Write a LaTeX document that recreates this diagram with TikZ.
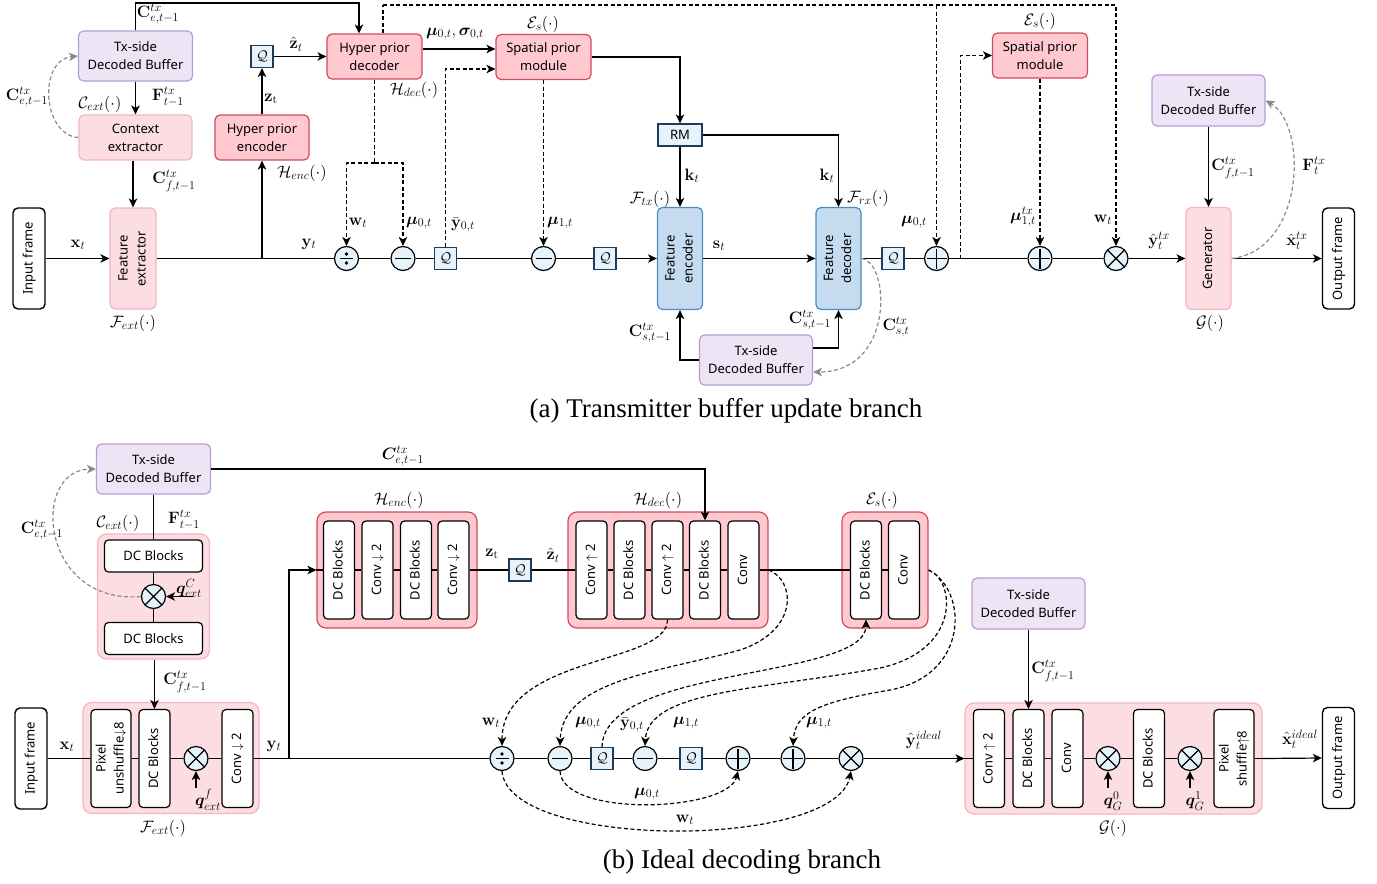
\documentclass[tikz,border=0pt]{standalone}
\usepackage{fix-cm}
\usepackage{amsmath,bm}
\usepackage[no-math]{fontspec}
\setmainfont{Noto Sans}
\newfontfamily\capfont{Liberation Serif}
\usepackage{graphicx}
\usetikzlibrary{arrows.meta,calc}
\DeclareMathSizes{16.5}{16.5}{12}{9}
\definecolor{purF}{HTML}{EDE5F5}
\definecolor{purD}{HTML}{B99AD9}
\definecolor{lpF}{HTML}{FCDDE2}
\definecolor{lpD}{HTML}{F5B5C0}
\definecolor{dpF}{HTML}{FFC9CF}
\definecolor{dpD}{HTML}{D24B5A}
\definecolor{blF}{HTML}{C5DBEF}
\definecolor{blD}{HTML}{4A8CC0}
\definecolor{qF}{HTML}{E6F3FB}
\definecolor{qD}{HTML}{1F3B5C}
\definecolor{grc}{HTML}{8A8A8A}
\newcommand\vtext[1]{\rotatebox{90}{\begin{tabular}{@{}c@{}}#1\end{tabular}}}
\tikzset{
 ln/.style={line width=1.2pt},
 ahead/.style={-{Stealth[length=9pt,width=8.5pt,inset=2.5pt]}},
 arr/.style={ln, ahead},
 dsh/.style={ln, dash pattern=on 4pt off 2.5pt},
 darr/.style={dsh, ahead},
 garr/.style={ln, draw=grc, dash pattern=on 4pt off 2.5pt, ahead},
 bx/.style={rounded corners=5pt, line width=1.2pt, align=center, inner sep=0pt, font=\fontsize{13}{18}\selectfont},
 pur/.style={bx, draw=purD, fill=purF},
 lpk/.style={bx, draw=lpD, fill=lpF},
 dpk/.style={bx, draw=dpD, fill=dpF},
 enc/.style={bx, draw=blD, fill=blF},
 frm/.style={bx, draw=black, fill=white, line width=1.4pt, minimum width=32pt, minimum height=101pt},
 wb/.style={bx, draw=black, fill=white, rounded corners=4pt},
 vb/.style={wb, minimum width=31pt, minimum height=98pt},
 cont/.style={rounded corners=9pt},
 qb/.style={draw=qD, fill=qF, line width=1.2pt, minimum width=22pt, minimum height=22pt, inner sep=0pt, font=\fontsize{14}{16}\selectfont},
 opc/.style={circle, draw=black, fill=qF, line width=1.2pt, minimum size=24pt, inner sep=0pt},
 opplus/.style={opc, path picture={\draw[black, line width=1.3pt] ([xshift=-10pt]path picture bounding box.center) -- ([xshift=10pt]path picture bounding box.center) ([yshift=-10pt]path picture bounding box.center) -- ([yshift=10pt]path picture bounding box.center);}},
 opminus/.style={opc, path picture={\draw[black, line width=1.3pt] ([xshift=-8pt]path picture bounding box.center) -- ([xshift=8pt]path picture bounding box.center);}},
 opdiv/.style={opc, path picture={\draw[black, line width=1.3pt] ([xshift=-6.5pt]path picture bounding box.center) -- ([xshift=6.5pt]path picture bounding box.center); \fill[black] ([yshift=4.5pt]path picture bounding box.center) circle (1.8pt) ([yshift=-4.5pt]path picture bounding box.center) circle (1.8pt);}},
 optimes/.style={opc, path picture={\draw[black, line width=1.3pt] ([shift={(-9pt,-9pt)}]path picture bounding box.center) -- ([shift={(9pt,9pt)}]path picture bounding box.center) ([shift={(-9pt,9pt)}]path picture bounding box.center) -- ([shift={(9pt,-9pt)}]path picture bounding box.center);}},
 lab/.style={inner sep=0pt, font=\fontsize{16.5}{19}\selectfont},
 captxt/.style={inner sep=0pt, font=\capfont\fontsize{27}{30}\selectfont},
}
\begin{document}
\begin{tikzpicture}[x=1pt,y=-1pt]
\path[use as bounding box] (0,0) rectangle (1377,884);
% ================= TOP PANEL =================
\node[pur, minimum width=114pt, minimum height=50pt] (tb1) at (135.5,56) {Tx-side\\Decoded Buffer};
\node[lpk, minimum width=113pt, minimum height=45pt] (ctx) at (135.5,137.5) {Context\\extractor};
\node[lpk, minimum width=46pt, minimum height=101pt] (fext) at (133,258.5) {\vtext{Feature\\extractor}};
\node[frm] (inA) at (29,258.5) {\vtext{Input frame}};
\node[dpk, minimum width=94pt, minimum height=45pt] (henc) at (262,137.5) {Hyper prior\\encoder};
\node[qb] (qz) at (262,56.5) {$\mathcal{Q}$};
\node[dpk, minimum width=95pt, minimum height=45pt] (hdec) at (374.5,56.5) {Hyper prior\\decoder};
\node[dpk, minimum width=95pt, minimum height=45pt] (sp1) at (543.5,57) {Spatial prior\\module};
\node[qb, minimum width=44pt, font=\fontsize{13}{15}\selectfont] (rm) at (680,135) {RM};
\node[enc, minimum width=45pt, minimum height=102pt] (fenc) at (680,258.5) {\vtext{Feature\\encoder}};
\node[enc, minimum width=45pt, minimum height=102pt] (fdec) at (838.5,258.5) {\vtext{Feature\\decoder}};
\node[pur, minimum width=113pt, minimum height=50pt] (tb2) at (756,360) {Tx-side\\Decoded Buffer};
\node[dpk, minimum width=95pt, minimum height=45pt] (sp2) at (1040,55.5) {Spatial prior\\module};
\node[pur, minimum width=113pt, minimum height=51pt] (tb3) at (1208.5,100.5) {Tx-side\\Decoded Buffer};
\node[lpk, minimum width=45pt, minimum height=102pt] (gen) at (1208.5,258.5) {\vtext{Generator}};
\node[frm] (outA) at (1338.5,258.5) {\vtext{Output frame}};
\node[opdiv] (dv1) at (346.5,258.5) {};
\node[opminus] (mn1) at (403,258.5) {};
\node[qb] (qa) at (445.5,258.5) {$\mathcal{Q}$};
\node[opminus] (mn2) at (543.5,258.5) {};
\node[qb] (qbb) at (605,258.5) {$\mathcal{Q}$};
\node[qb] (qc) at (893,258.5) {$\mathcal{Q}$};
\node[opplus] (pl1) at (936.5,258.5) {};
\node[opplus] (pl2) at (1040,258.5) {};
\node[optimes] (tm1) at (1116,258.5) {};
% connectors top
\coordinate (k1) at (359,3);
\coordinate (k2) at (0,49);
\coordinate (k3) at (0,360);
\coordinate (k4) at (0,348);
\coordinate (k5) at (383,5);
\coordinate (k6) at (936.5,5);
\coordinate (k7) at (374.5,163);
\coordinate (k8) at (0,69);
\coordinate (jA) at (262,258.5);
\coordinate (jB) at (960.5,258.5);
\draw[arr] (tb1.south) -- (ctx.north);
\draw[arr] (ctx.south -| fext.north) -- (fext.north);
\draw[arr] (inA.east) -- (fext.west);
\draw[ln] (fext.east) -- (dv1.west);
\draw[arr] (jA) -- (henc.south);
\draw[arr] (henc.north) -- (qz.south);
\draw[arr] (qz.east) -- (hdec.west);
\draw[arr] (tb1.north) |- (k1) -- (k1 |- hdec.north);
\draw[arr] (hdec.east |- k2) -- (sp1.west |- k2);
\draw[arr] (sp1.east) -| (rm.north);
\draw[arr] (rm.south) -- (fenc.north);
\draw[arr] (rm.east) -| (fdec.north);
\draw[ln] (dv1.east) -- (mn1.west);
\draw[ln] (mn1.east) -- (qa.west);
\draw[ln] (qa.east) -- (mn2.west);
\draw[ln] (mn2.east) -- (qbb.west);
\draw[arr] (qbb.east) -- (fenc.west);
\draw[arr] (fenc.east) -- (fdec.west);
\draw[ln] (fdec.east) -- (qc.west);
\draw[ln] (qc.east) -- (pl1.west);
\draw[ln] (pl1.east) -- (pl2.west);
\draw[ln] (pl2.east) -- (tm1.west);
\draw[arr] (tm1.east) -- (gen.west);
\draw[arr] (gen.east) -- (outA.west);
\draw[arr] (tb2.west |- k3) -| (fenc.south);
\draw[arr] (tb2.east |- k4) -| (fdec.south);
\draw[arr] (tb3.south) -- (gen.north);
\draw[dsh] (k5 |- hdec.north) -- (k5);
\draw[darr] (k5) -| (tm1.north);
\draw[darr] (k6) -- (pl1.north);
\draw[dsh] (hdec.south) -- (k7);
\draw[darr] (k7) -| (dv1.north);
\draw[darr] (k7) -| (mn1.north);
\draw[darr] (qa.north) |- (sp1.west |- k8);
\draw[darr] (sp1.south) -- (mn2.north);
\draw[darr] (jB) |- (sp2.west);
\draw[darr] (sp2.south) -- (pl2.north);
\draw[garr] (ctx.west) .. controls (42,135) and (38,60) .. (tb1.west);
\draw[garr] (fdec.east) .. controls (890,262) and (895,372) .. ($(tb2.east)+(0,12)$);
\draw[garr] (gen.east) .. controls (1305,250) and (1308,125) .. (tb3.east);
% labels top
\node[lab] (l1) at (158,14) {$\mathbf{C}^{tx}_{e,t-1}$};
\node[lab] (l2) at (27,97) {$\mathbf{C}^{tx}_{e,t-1}$};
\node[lab] (l3) at (100,104) {$\mathcal{C}_{ext}(\cdot)$};
\node[lab] (l4) at (168,97) {$\mathbf{F}^{tx}_{t-1}$};
\node[lab] (l5) at (174,181) {$\mathbf{C}^{tx}_{f,t-1}$};
\node[lab] (l6) at (133,323) {$\mathcal{F}_{ext}(\cdot)$};
\node[lab] (l7) at (78,245) {$\mathbf{x}_t$};
\node[lab] (l8) at (271,99) {$\mathbf{z}_\mathrm{t}$};
\node[lab] (l9) at (296,44) {$\hat{\mathbf{z}}_t$};
\node[lab] (l10) at (302,173) {$\mathcal{H}_{enc}(\cdot)$};
\node[lab] (l11) at (309,244) {$\mathbf{y}_t$};
\node[lab] (l12) at (455,34) {$\bm{\mu}_{0,t},\bm{\sigma}_{0,t}$};
\node[lab] (l13) at (543,24) {$\mathcal{E}_s(\cdot)$};
\node[lab] (l14) at (414,90) {$\mathcal{H}_{dec}(\cdot)$};
\node[lab] (l15) at (358,223) {$\mathbf{w}_t$};
\node[lab] (l16) at (419,223) {$\bm{\mu}_{0,t}$};
\node[lab] (l17) at (463,225) {$\bar{\mathbf{y}}_{0,t}$};
\node[lab] (l18) at (560,223) {$\bm{\mu}_{1,t}$};
\node[lab] (l19) at (692,176) {$\mathbf{k}_t$};
\node[lab] (l20) at (650,199) {$\mathcal{F}_{tx}(\cdot)$};
\node[lab] (l21) at (827,176) {$\mathbf{k}_t$};
\node[lab] (l22) at (868,198) {$\mathcal{F}_{rx}(\cdot)$};
\node[lab] (l23) at (719,246) {$\mathbf{s}_t$};
\node[lab] (l24) at (650,333) {$\mathbf{C}^{tx}_{s,t-1}$};
\node[lab] (l25) at (810,320) {$\mathbf{C}^{tx}_{s,t-1}$};
\node[lab] (l26) at (896,327) {$\mathbf{C}^{tx}_{s,t}$};
\node[lab] (l27) at (914,222) {$\bm{\mu}_{0,t}$};
\node[lab] (l28) at (1023,217) {$\bm{\mu}^{tx}_{1,t}$};
\node[lab] (l29) at (1103,220) {$\mathbf{w}_t$};
\node[lab] (l30) at (1040,21) {$\mathcal{E}_s(\cdot)$};
\node[lab] (l31) at (1159,241) {$\hat{\mathbf{y}}^{tx}_t$};
\node[lab] (l32) at (1233,168) {$\mathbf{C}^{tx}_{f,t-1}$};
\node[lab] (l33) at (1314,166) {$\mathbf{F}^{tx}_t$};
\node[lab] (l34) at (1297,241) {$\hat{\mathbf{x}}^{tx}_t$};
\node[lab] (l35) at (1210,323) {$\mathcal{G}(\cdot)$};
\node[captxt] (capA) at (726,411) {(a) Transmitter buffer update branch};
% ================= BOTTOM PANEL =================
\node[pur, minimum width=114pt, minimum height=50pt] (tb4) at (153.5,469) {Tx-side\\Decoded Buffer};
\node[lpk, cont, minimum width=112pt, minimum height=125pt] (cext) at (153.5,596.5) {};
\node[wb, minimum width=98pt, minimum height=32pt] (cB1) at (153.5,556) {DC Blocks};
\node[optimes] (ctm) at (153.5,596.5) {};
\node[wb, minimum width=98pt, minimum height=32pt] (cB2) at (153.5,638.5) {DC Blocks};
\node[lpk, cont, minimum width=176pt, minimum height=111pt] (fcont) at (171,758) {};
\node[vb, minimum width=40pt] (fB1) at (111,758.5) {\vtext{Pixel\\unshuffle$\downarrow$8}};
\node[vb] (fB2) at (154.5,758.5) {\vtext{DC Blocks}};
\node[optimes] (ftm) at (196,758.5) {};
\node[vb] (fB3) at (237.5,758.5) {\vtext{Conv $\downarrow$ 2}};
\node[frm] (inB) at (31,758.5) {\vtext{Input frame}};
\node[dpk, cont, minimum width=160pt, minimum height=116pt] (hecont) at (397,570) {};
\node[vb] (eB1) at (339,570) {\vtext{DC Blocks}};
\node[vb] (eB2) at (377.5,570) {\vtext{Conv $\downarrow$ 2}};
\node[vb] (eB3) at (416,570) {\vtext{DC Blocks}};
\node[vb] (eB4) at (453.5,570) {\vtext{Conv $\downarrow$ 2}};
\node[qb] (qz2) at (520,570) {$\mathcal{Q}$};
\node[dpk, cont, minimum width=200pt, minimum height=116pt] (hdcont) at (668,570) {};
\node[vb] (dB1) at (591.5,570) {\vtext{Conv $\uparrow$ 2}};
\node[vb] (dB2) at (629.5,570) {\vtext{DC Blocks}};
\node[vb] (dB3) at (667.5,570) {\vtext{Conv $\uparrow$ 2}};
\node[vb] (dB4) at (705,570) {\vtext{DC Blocks}};
\node[vb] (dB5) at (743.5,570) {\vtext{Conv}};
\node[dpk, cont, minimum width=86pt, minimum height=116pt] (escont) at (885,570) {};
\node[vb] (sB1) at (866,570) {\vtext{DC Blocks}};
\node[vb] (sB2) at (904,570) {\vtext{Conv}};
\node[opdiv] (dv2) at (502,758.5) {};
\node[opminus] (mn3) at (560,758.5) {};
\node[qb] (qd) at (602,758.5) {$\mathcal{Q}$};
\node[opminus] (mn4) at (645,758.5) {};
\node[qb] (qe) at (691,758.5) {$\mathcal{Q}$};
\node[opplus] (pl3) at (738,758.5) {};
\node[opplus] (pl4) at (793,758.5) {};
\node[optimes] (tm2) at (851,758.5) {};
\node[pur, minimum width=113pt, minimum height=51pt] (tb5) at (1028.5,603.5) {Tx-side\\Decoded Buffer};
\node[lpk, cont, minimum width=297pt, minimum height=111pt] (gcont) at (1113.5,758.5) {};
\node[vb] (gB1) at (989,758.5) {\vtext{Conv $\uparrow$ 2}};
\node[vb] (gB2) at (1028.5,758.5) {\vtext{DC Blocks}};
\node[vb] (gB3) at (1067.5,758.5) {\vtext{Conv}};
\node[optimes] (gtm1) at (1108,758.5) {};
\node[vb] (gB4) at (1149,758.5) {\vtext{DC Blocks}};
\node[optimes] (gtm2) at (1190,758.5) {};
\node[vb, minimum width=40pt] (gB5) at (1234,758.5) {\vtext{Pixel\\shuffle$\uparrow$8}};
\node[frm] (outB) at (1338.5,758) {\vtext{Output frame}};
% connectors bottom
\coordinate (qcS) at (193,596.5);
\coordinate (qfS) at (196,788);
\coordinate (q0S) at (1108,788);
\coordinate (q1S) at (1190,788);
\coordinate (jC) at (289,758.5);
\draw[ln] (tb4.south) -- (cB1.north);
\draw[ln] (cB1.south) -- (ctm.north);
\draw[ln] (ctm.south) -- (cB2.north);
\draw[arr] (qcS) -- (ctm.east);
\draw[arr] (cext.south -| fB2.north) -- (fB2.north);
\draw[ln] (inB.east) -- (fB1.west);
\draw[ln] (fB1.east) -- (fB2.west);
\draw[ln] (fB2.east) -- (ftm.west);
\draw[ln] (ftm.east) -- (fB3.west);
\draw[ln] (fB3.east) -- (dv2.west);
\draw[arr] (qfS) -- (ftm.south);
\draw[arr] (jC) |- (hecont.west);
\draw[ln] (hecont.west) -- (eB1.west);
\draw[ln] (eB1.east) -- (eB2.west);
\draw[ln] (eB2.east) -- (eB3.west);
\draw[ln] (eB3.east) -- (eB4.west);
\draw[ln] (eB4.east) -- (qz2.west);
\draw[ln] (qz2.east) -- (dB1.west);
\draw[ln] (dB1.east) -- (dB2.west);
\draw[ln] (dB2.east) -- (dB3.west);
\draw[ln] (dB3.east) -- (dB4.west);
\draw[ln] (dB4.east) -- (dB5.west);
\draw[ln] (dB5.east) -- (sB1.west);
\draw[ln] (sB1.east) -- (sB2.west);
\draw[arr] (tb4.east) -| (dB4.north);
\draw[ln] (dv2.east) -- (mn3.west);
\draw[ln] (mn3.east) -- (qd.west);
\draw[ln] (qd.east) -- (mn4.west);
\draw[ln] (mn4.east) -- (qe.west);
\draw[ln] (qe.east) -- (pl3.west);
\draw[ln] (pl3.east) -- (pl4.west);
\draw[ln] (pl4.east) -- (tm2.west);
\draw[arr] (tm2.east) -- (gcont.west);
\draw[ln] (gcont.west) -- (gB1.west);
\draw[ln] (gB1.east) -- (gB2.west);
\draw[ln] (gB2.east) -- (gB3.west);
\draw[ln] (gB3.east) -- (gtm1.west);
\draw[ln] (gtm1.east) -- (gB4.west);
\draw[ln] (gB4.east) -- (gtm2.west);
\draw[ln] (gtm2.east) -- (gB5.west);
\draw[ln] (gB5.east) -- (gcont.east);
\draw[arr] (gcont.east) -- (outB.west);
\draw[arr] (tb5.south) -- (gB2.north);
\draw[arr] (q0S) -- (gtm1.south);
\draw[arr] (q1S) -- (gtm2.south);
% dashed curves bottom
\draw[darr] (dB3.south) .. controls (668,665) and (502,655) .. (dv2.north);
\draw[darr] (hdcont.east) .. controls (795,580) and (800,630) .. (740,650) .. controls (660,672) and (562,680) .. (mn3.north);
\draw[darr] (qd.north) .. controls (604,665) and (866,680) .. (sB1.south);
\draw[darr] (escont.east) .. controls (955,580) and (962,650) .. (880,668) .. controls (760,690) and (648,690) .. (mn4.north);
\draw[darr] (escont.east) .. controls (968,590) and (970,675) .. (890,690) .. controls (820,702) and (795,712) .. (pl4.north);
\draw[darr] (mn3.south) .. controls (562,818) and (728,812) .. (pl3.south);
\draw[darr] (dv2.south) .. controls (508,850) and (835,850) .. (tm2.south);
\draw[garr] (ctm.west) .. controls (40,605) and (30,470) .. (tb4.west);
% labels bottom
\node[lab] (l36) at (403,456) {$\bm{C}^{tx}_{e,t-1}$};
\node[lab] (l37) at (118,523) {$\mathcal{C}_{ext}(\cdot)$};
\node[lab] (l38) at (184,520) {$\mathbf{F}^{tx}_{t-1}$};
\node[lab] (l39) at (42,530) {$\mathbf{C}^{tx}_{e,t-1}$};
\node[lab] (l40) at (189,588) {$\bm{q}^{C}_{ext}$};
\node[lab] (l41) at (185,682) {$\mathbf{C}^{tx}_{f,t-1}$};
\node[lab] (l42) at (67,747) {$\mathbf{x}_t$};
\node[lab] (l43) at (274,746) {$\mathbf{y}_t$};
\node[lab] (l44) at (208,800) {$\bm{q}^{f}_{ext}$};
\node[lab] (l45) at (163,828) {$\mathcal{F}_{ext}(\cdot)$};
\node[lab] (l46) at (399,500) {$\mathcal{H}_{enc}(\cdot)$};
\node[lab] (l47) at (492,554) {$\mathbf{z}_\mathrm{t}$};
\node[lab] (l48) at (553,555) {$\hat{\mathbf{z}}_t$};
\node[lab] (l49) at (658,500) {$\mathcal{H}_{dec}(\cdot)$};
\node[lab] (l50) at (882,500) {$\mathcal{E}_s(\cdot)$};
\node[lab] (l51) at (491,723) {$\mathbf{w}_t$};
\node[lab] (l52) at (588,723) {$\bm{\mu}_{0,t}$};
\node[lab] (l53) at (632,725) {$\bar{\mathbf{y}}_{0,t}$};
\node[lab] (l54) at (686,723) {$\bm{\mu}_{1,t}$};
\node[lab] (l55) at (819,723) {$\bm{\mu}_{1,t}$};
\node[lab] (l56) at (647,794) {$\bm{\mu}_{0,t}$};
\node[lab] (l57) at (685,820) {$\mathbf{w}_t$};
\node[lab] (l58) at (924,740) {$\hat{\mathbf{y}}^{ideal}_t$};
\node[lab] (l59) at (1053,671) {$\mathbf{C}^{tx}_{f,t-1}$};
\node[lab] (l60) at (1113,801) {$\bm{q}^{0}_{G}$};
\node[lab] (l61) at (1195,801) {$\bm{q}^{1}_{G}$};
\node[lab] (l62) at (1113,828) {$\mathcal{G}(\cdot)$};
\node[lab] (l63) at (1300,739) {$\hat{\mathbf{x}}^{ideal}_t$};
\node[captxt] (capB) at (742,862) {(b) Ideal decoding branch};
\end{tikzpicture}
\end{document}
